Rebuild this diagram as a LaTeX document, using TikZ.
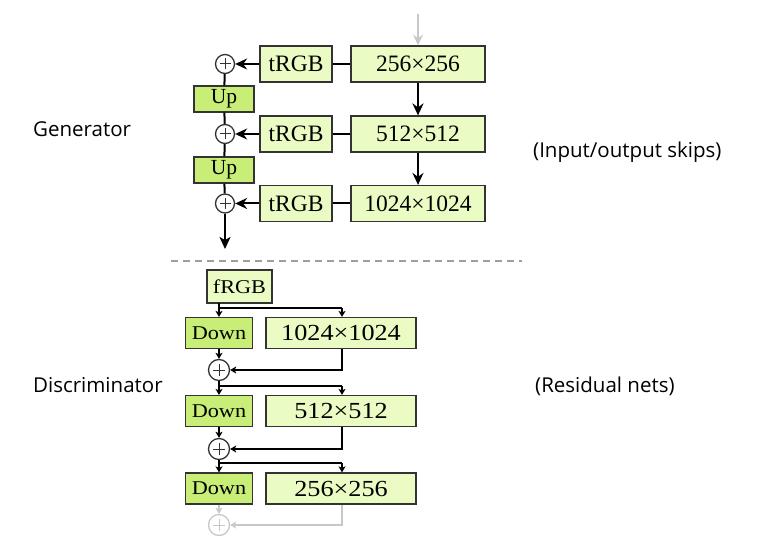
\documentclass[tikz,border=0pt]{standalone}
\usepackage{fontspec}
\setmainfont{Liberation Serif}
\newfontfamily\labelfont{Open Sans}
\newfontfamily\wideserif[FakeStretch=1.14]{Liberation Serif}
\usetikzlibrary{arrows.meta}
\definecolor{lightg}{HTML}{EAFBC3}
\definecolor{darkg}{HTML}{C8EE78}
\definecolor{bord}{HTML}{333333}
\definecolor{faded}{HTML}{C8C8C8}
\tikzset{
  bigbox/.style={draw=bord, line width=1.2pt, fill=lightg, minimum width=134pt, minimum height=36pt, inner sep=0pt, font=\fontsize{23.5}{25}\selectfont},
  rgbbox/.style={draw=bord, line width=1.2pt, fill=lightg, minimum width=72pt, minimum height=36pt, inner sep=0pt, font=\fontsize{23.5}{25}\selectfont},
  upbox/.style={draw=bord, line width=1.2pt, fill=darkg, minimum width=60pt, minimum height=26pt, inner sep=0pt, font=\fontsize{21.5}{22}\selectfont},
  dbig/.style={draw=bord, line width=1.2pt, fill=lightg, minimum width=150pt, minimum height=31pt, inner sep=0pt, font=\wideserif\fontsize{23}{24}\selectfont},
  downbox/.style={draw=bord, line width=1.2pt, fill=darkg, minimum width=67pt, minimum height=31pt, inner sep=0pt, font=\wideserif\fontsize{19.5}{21}\selectfont},
  frgbbox/.style={draw=bord, line width=1.2pt, fill=lightg, minimum width=65pt, minimum height=33pt, inner sep=0pt, font=\wideserif\fontsize{19.5}{21}\selectfont},
  plusnode/.style={draw=bord, line width=1.3pt, circle, fill=white, minimum size=19pt, inner sep=0pt, path picture={\draw[line width=1pt] ([xshift=-5.5pt]path picture bounding box.center) -- ([xshift=5.5pt]path picture bounding box.center) ([yshift=-5.5pt]path picture bounding box.center) -- ([yshift=5.5pt]path picture bounding box.center);}},
  gplus/.style={plusnode, draw=faded, minimum size=21pt, path picture={\draw[faded, line width=1pt] ([xshift=-6pt]path picture bounding box.center) -- ([xshift=6pt]path picture bounding box.center) ([yshift=-6pt]path picture bounding box.center) -- ([yshift=6pt]path picture bounding box.center);}},
  dplus/.style={plusnode, minimum size=21pt, path picture={\draw[line width=1pt] ([xshift=-6pt]path picture bounding box.center) -- ([xshift=6pt]path picture bounding box.center) ([yshift=-6pt]path picture bounding box.center) -- ([yshift=6pt]path picture bounding box.center);}},
  garrow/.style={line width=2pt, -{Stealth[length=12pt,width=11pt,inset=4pt]}},
  gline/.style={line width=2pt},
  darrow/.style={line width=1.6pt, -{Stealth[length=6pt,width=7pt,inset=1.5pt]}},
  dline/.style={line width=1.6pt},
  lbl/.style={font=\labelfont\fontsize{20.5}{22}\selectfont, anchor=base west, inner sep=0pt},
}
\begin{document}
\begin{tikzpicture}[x=1pt,y=-1pt]
\useasboundingbox (0,0) rectangle (759,545);
% Generator
\node[bigbox] (g1) at (418,64) {256×256};
\node[bigbox] (g2) at (418,134) {512×512};
\node[bigbox] (g3) at (418,203.5) {1024×1024};
\node[rgbbox] (t1) at (296,64) {tRGB};
\node[rgbbox] (t2) at (296,134) {tRGB};
\node[rgbbox] (t3) at (296,203.5) {tRGB};
\node[plusnode] (p1) at (225,64) {};
\node[plusnode] (p2) at (225,134) {};
\node[plusnode] (p3) at (225,203.5) {};
\node[upbox] (u1) at (224,99) {Up};
\node[upbox] (u2) at (224,170) {Up};
\coordinate (gin) at (418,14);
\coordinate (gout) at (225,249);
\draw[line width=1.5pt, faded, -{Stealth[length=11pt,width=10pt,inset=4pt]}] (gin) -- (g1.north);
\draw[garrow] (g1) -- (g2);
\draw[garrow] (g2) -- (g3);
\draw[gline] (t1) -- (g1);
\draw[gline] (t2) -- (g2);
\draw[gline] (t3) -- (g3);
\draw[garrow] (t1) -- (p1);
\draw[garrow] (t2) -- (p2);
\draw[garrow] (t3) -- (p3);
\draw[gline] (p1) -- (u1);
\draw[gline] (u1) -- (p2);
\draw[gline] (p2) -- (u2);
\draw[gline] (u2) -- (p3);
\draw[line width=2pt, -{Stealth[length=12pt,width=11pt,inset=3pt]}] (p3) -- (gout);
% separator
\coordinate (sepl) at (171,261);
\coordinate (sepr) at (522,261);
\draw[line width=1.5pt, color=black!38, dash pattern=on 7pt off 5pt] (sepl) -- (sepr);
% Discriminator
\node[frgbbox] (f) at (239.5,286.5) {fRGB};
\node[downbox] (d1) at (219,333) {Down};
\node[downbox] (d2) at (219,411) {Down};
\node[downbox] (d3) at (219,488.5) {Down};
\node[dbig] (b1) at (341,333) {1024×1024};
\node[dbig] (b2) at (341,411) {512×512};
\node[dbig] (b3) at (341,488.5) {256×256};
\node[dplus] (q1) at (219,370) {};
\node[dplus] (q2) at (219,449) {};
\node[gplus] (q3) at (219,525) {};
\coordinate (fo) at (219,303);
\coordinate (br1) at (219,308);
\coordinate (br1r) at (342,308);
\coordinate (br2) at (219,386);
\coordinate (br2r) at (342,386);
\coordinate (br3) at (219,463);
\coordinate (br3r) at (342,463);
\coordinate (r1) at (342,370);
\coordinate (r2) at (342,449);
\coordinate (r3) at (342,525);
\draw[dline] (fo) -- (br1) -- (br1r);
\draw[darrow] (br1) -- (d1.north);
\draw[darrow] (br1r) -- (b1.north -| br1r);
\draw[darrow] (d1) -- (q1);
\draw[darrow] (b1.south -| r1) -- (r1) -- (q1);
\draw[dline] (q1) -- (br2) -- (br2r);
\draw[darrow] (br2) -- (d2.north);
\draw[darrow] (br2r) -- (b2.north -| br2r);
\draw[darrow] (d2) -- (q2);
\draw[darrow] (b2.south -| r2) -- (r2) -- (q2);
\draw[dline] (q2) -- (br3) -- (br3r);
\draw[darrow] (br3) -- (d3.north);
\draw[darrow] (br3r) -- (b3.north -| br3r);
\draw[line width=1.3pt, faded, -{Stealth[length=6pt,width=7pt,inset=1.5pt]}] (d3) -- (q3);
\draw[line width=1.3pt, faded, -{Stealth[length=6pt,width=7pt,inset=1.5pt]}] (b3.south -| r3) -- (r3) -- (q3);
% labels
\node[lbl] (lg) at (33,137) {Generator};
\node[lbl] (li) at (533,158) {(Input/output skips)};
\node[lbl] (ld) at (33,392) {Discriminator};
\node[lbl] (lr) at (535,392) {(Residual nets)};
\end{tikzpicture}
\end{document}
